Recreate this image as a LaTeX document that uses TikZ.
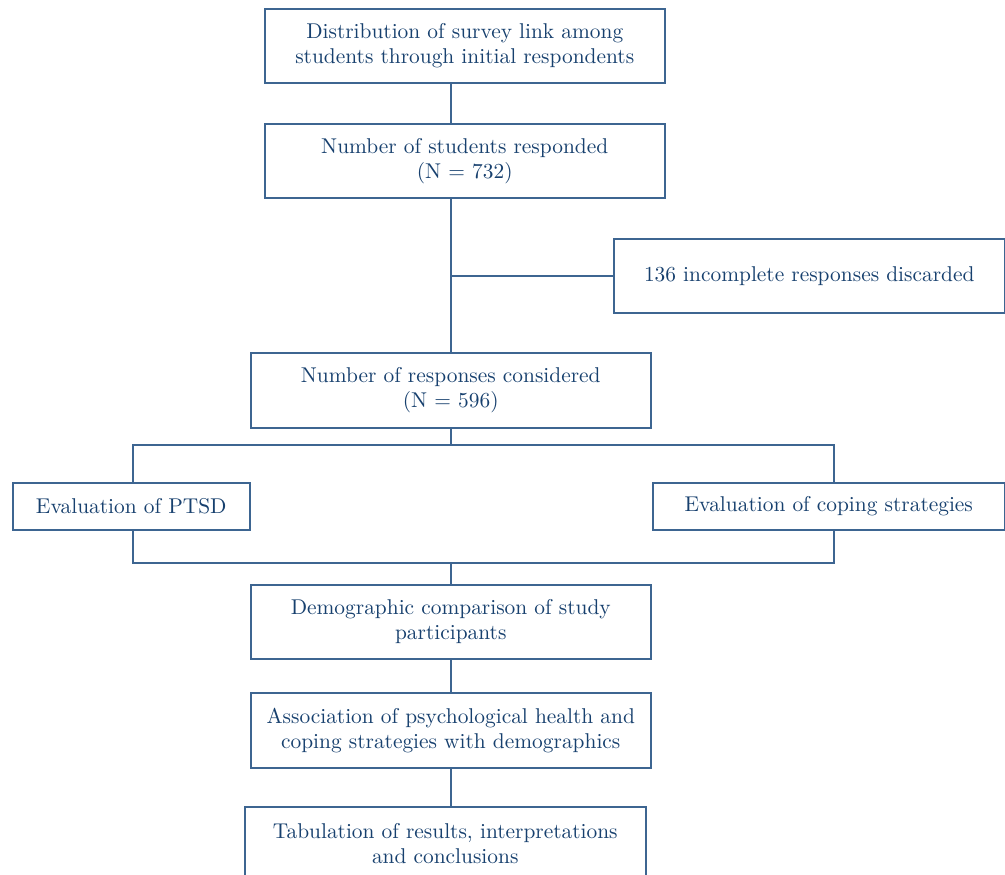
\documentclass[tikz,border=0pt]{standalone}
\usetikzlibrary{positioning}
\definecolor{boxline}{HTML}{3D6591}
\definecolor{boxtext}{HTML}{17406E}
\tikzset{
  flowbox/.style={draw=boxline,line width=0.75pt,text=boxtext,align=center,
    anchor=north west,inner sep=0pt,font=\fontsize{10.7}{12.6}\selectfont},
  link/.style={draw=boxline,line width=0.75pt}
}
\begin{document}
\begin{tikzpicture}[x=0.5pt,y=-0.5pt]
        \useasboundingbox (0,0) rectangle (1005,874);
        \clip (0,0) rectangle (1005,874);
        %% Boxes
        \node[flowbox,minimum width=200pt,minimum height=37pt] (dist) at (264,8)
          {Distribution of survey link among\\students through initial respondents};
        \node[flowbox,minimum width=200pt,minimum height=37pt] (resp) at (264,123)
          {Number of students responded\\(N = 732)};
        \node[flowbox,minimum width=195.5pt,minimum height=37pt] (disc) at (613,238)
          {136 incomplete responses discarded};
        \node[flowbox,minimum width=200pt,minimum height=37.5pt] (cons) at (250,352)
          {Number of responses considered\\(N = 596)};
        \node[flowbox,minimum width=118.5pt,minimum height=23.5pt] (ptsd) at (12,482)
          {Evaluation of PTSD};
        \node[flowbox,minimum width=176pt,minimum height=23.5pt] (cope) at (652,482)
          {Evaluation of coping strategies};
        \node[flowbox,minimum width=200pt,minimum height=37pt] (demo) at (250,584)
          {Demographic comparison of study\\participants};
        \node[flowbox,minimum width=200pt,minimum height=37.5pt] (assoc) at (250,692)
          {Association of psychological health and\\coping strategies with demographics};
        \node[flowbox,minimum width=200.5pt,minimum height=37pt] (tab) at (244,806)
          {Tabulation of results, interpretations\\and conclusions};
        %% Connectors
        \coordinate (trunk) at (451,0);
        \coordinate (left) at (133,0);
        \coordinate (right) at (834,0);
        \coordinate (split) at (451,445);
        \coordinate (merge) at (451,563);
        \draw[link] (dist.south -| trunk) -- (resp.north -| trunk);
        \draw[link] (resp.south -| trunk) -- (cons.north -| trunk);
        \draw[link] (disc.west -| trunk) -- (disc.west);
        \draw[link] (cons.south -| trunk) -- (split);
        \draw[link] (ptsd.north -| left) |- (split) -| (cope.north -| right);
        \draw[link] (ptsd.south -| left) |- (merge) -| (cope.south -| right);
        \draw[link] (merge) -- (demo.north -| trunk);
        \draw[link] (demo.south -| trunk) -- (assoc.north -| trunk);
        \draw[link] (assoc.south -| trunk) -- (tab.north -| trunk);
\end{tikzpicture}
\end{document}
